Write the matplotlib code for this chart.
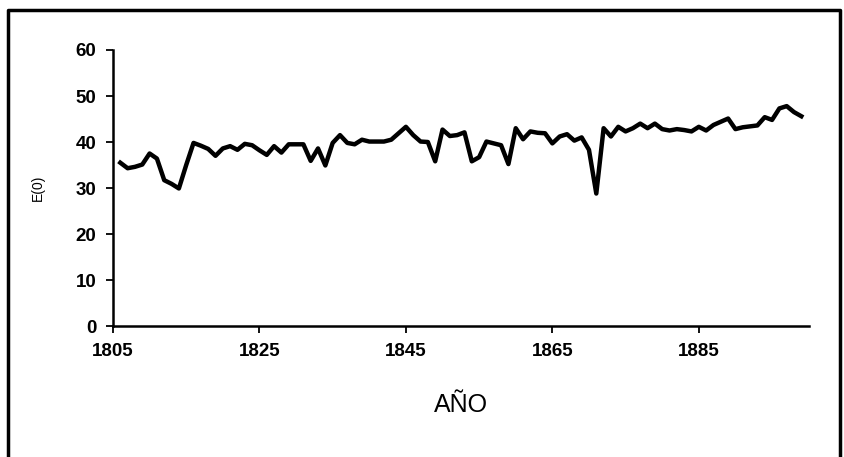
import numpy as np
import matplotlib.pyplot as plt
from matplotlib.lines import Line2D

# life expectancy at birth, one value per year
years = np.arange(1806, 1900)
e0 = [
    35.5, 34.3, 34.6, 35.1, 37.5, 36.4, 31.7, 30.9, 29.9, 35.0,   # 1806-1815
    39.8, 39.2, 38.5, 37.0, 38.6, 39.1, 38.3, 39.6, 39.3, 38.2,   # 1816-1825
    37.2, 39.1, 37.7, 39.5, 39.5, 39.5, 35.9, 38.6, 34.9, 39.8,   # 1826-1835
    41.5, 39.8, 39.5, 40.5, 40.1, 40.1, 40.1, 40.5, 41.9, 43.3,   # 1836-1845
    41.5, 40.1, 40.0, 35.8, 42.7, 41.3, 41.5, 42.1, 35.8, 36.7,   # 1846-1855
    40.1, 39.7, 39.3, 35.2, 43.0, 40.6, 42.3, 42.0, 41.9, 39.7,   # 1856-1865
    41.2, 41.7, 40.3, 41.0, 38.3, 28.8, 43.0, 41.2, 43.3, 42.3,   # 1866-1875
    43.0, 44.0, 43.0, 44.0, 42.8, 42.5, 42.8, 42.6, 42.3, 43.3,   # 1876-1885
    42.5, 43.7, 44.4, 45.1, 42.8, 43.2, 43.4, 43.6, 45.4, 44.8,   # 1886-1895
    47.3, 47.8, 46.5, 45.6,                                       # 1896-1899
]
xticks = [1805, 1825, 1845, 1865, 1885]
yticks = [0, 10, 20, 30, 40, 50, 60]

plt.rcParams['font.family'] = ['Liberation Sans', 'DejaVu Sans']

fig = plt.figure(figsize=(8.45, 4.57), dpi=100)
ax = fig.add_axes([0.1337, 0.2866, 0.8233, 0.604])

ax.plot(years, e0, color='black', lw=3.2, solid_joinstyle='round')

ax.set_xlim(1805, 1900)
ax.set_ylim(0, 60)
ax.set_xticks(xticks)
ax.set_yticks(yticks)
ax.tick_params(direction='out', length=5, width=1.3, labelsize=13.5, pad=7)
for lab in ax.get_xticklabels() + ax.get_yticklabels():
    lab.set_fontweight('bold')

for s in ['top', 'right']:
    ax.spines[s].set_visible(False)
for s in ['left', 'bottom']:
    ax.spines[s].set_linewidth(1.8)

ax.set_xlabel('AÑO', fontsize=18, labelpad=24)
ax.set_ylabel('E(0)', fontsize=10, labelpad=22)

# frame around the chart (left, top, right)
frame = Line2D([0.010, 0.010, 0.994, 0.994], [0.0, 0.978, 0.978, 0.0],
               transform=fig.transFigure, color='black', lw=2.5)
fig.add_artist(frame)

fig.savefig('out.png', dpi=100)
